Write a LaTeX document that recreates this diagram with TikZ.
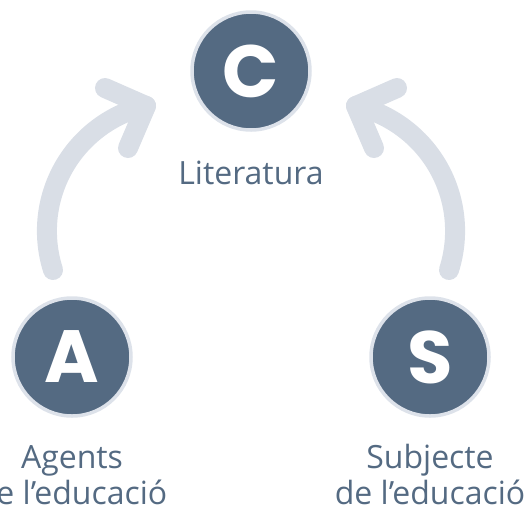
\documentclass[tikz,border=0pt]{standalone}
\usepackage{fontspec}
\setmainfont{Open Sans}
\newfontfamily\letterfont{Poppins}
\definecolor{slate}{HTML}{546A82}
\definecolor{ringc}{HTML}{DDE2EA}
\definecolor{arrowc}{HTML}{D9DEE6}
\tikzset{
  bubble/.style={circle, fill=slate, draw=ringc, line width=3.5pt, minimum size=118pt, inner sep=0pt,
    text=white, font=\letterfont\bfseries\fontsize{74}{74}\selectfont},
  lbl/.style={text=slate, font=\fontsize{32}{36}\selectfont, align=center, inner sep=0pt},
  arc line/.style={draw=arrowc, line width=20pt, line cap=round, line join=round}
}
\begin{document}
\begin{tikzpicture}[x=1pt, y=-1pt]
\useasboundingbox (0,0) rectangle (530,515);
\node[bubble] (C) at (251,71) {C};
\node[bubble] (A) at (72,357) {A};
\node[bubble] (S) at (430,357) {S};
\node[lbl, anchor=base] (lc) at (251,184) {Literatura};
\node[lbl, anchor=base] (la1) at (72,468) {Agents};
\node[lbl, anchor=base] (la2) at (72,504) {de l’educació};
\node[lbl, anchor=base] (ls1) at (430,468) {Subjecte};
\node[lbl, anchor=base] (ls2) at (430,504) {de l’educació};
% left arrow: A -> C
\path (A) ++(-19,-87) coordinate (a1);
\path (C) ++(-105,35) coordinate (a2);
\draw[arc line] (a1) arc[start angle=162.3, end angle=256.8, radius=128.5];
\draw[arc line] (a2) ++(-41,-18) -- (a2) -- ++(-18,42);
% right arrow: S -> C
\path (S) ++(19,-87) coordinate (s1);
\path (C) ++(105,35) coordinate (s2);
\draw[arc line] (s1) arc[start angle=17.7, end angle=-76.8, radius=128.5];
\draw[arc line] (s2) ++(41,-18) -- (s2) -- ++(18,42);
\end{tikzpicture}
\end{document}
